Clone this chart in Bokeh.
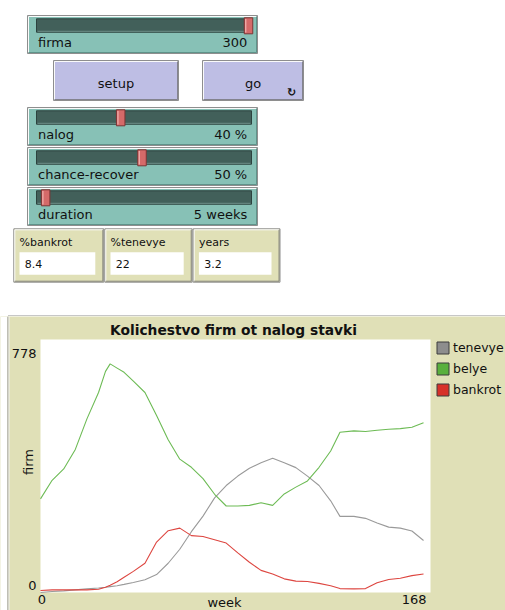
import math
from bokeh.plotting import figure
from bokeh.layouts import column
from bokeh.models import Range1d, Label, Legend, LegendItem
from bokeh.embed import file_html
from bokeh.resources import INLINE
from bokeh.core.properties import value

# ---------------- data ----------------
weeks = [0, 5, 10, 15, 20, 25, 28, 30, 33, 36, 40, 45, 50, 55, 60, 65, 70, 75, 80, 85,
         90, 95, 100, 105, 110, 115, 120, 125, 129, 135, 140, 145, 150, 155, 160, 165]
tenevye = [0, 3, 5, 8, 11, 14, 16, 18, 21, 25, 31, 39, 55, 90, 133, 187, 235, 291, 329, 358,
           382, 399, 413, 399, 384, 358, 329, 282, 234, 234, 228, 214, 201, 198, 189, 160]
belye = [288, 345, 380, 440, 534, 615, 680, 703, 690, 677, 650, 615, 544, 470, 410, 385, 350, 302, 266, 266,
         268, 276, 268, 303, 324, 343, 385, 435, 493, 497, 495, 499, 502, 504, 508, 522]
bankrot = [6, 8, 8, 8, 8, 10, 16, 22, 33, 47, 65, 90, 155, 190, 198, 175, 172, 162, 152, 122,
           93, 68, 57, 42, 35, 34, 28, 21, 12, 11, 12, 30, 40, 44, 52, 57]

series_names = ["tenevye", "belye", "bankrot"]
series_values = [tenevye, belye, bankrot]

x_min, x_max = 0, 168
y_min, y_max = 0, 778
plot_title = "Kolichestvo firm ot nalog stavki"
x_label = "week"
y_label = "firm"

slider_names = ["firma", "nalog", "chance-recover", "duration"]
slider_values = [300, 40, 50, 5]
slider_units = ["", " %", " %", " weeks"]
slider_mins = [10, 0, 0, 1]
slider_maxs = [300, 100, 100, 85]

button_names = ["setup", "go"]

monitor_names = ["%bankrot", "%tenevye", "years"]
monitor_values = ["8.4", "22", "3.2"]

# ---------------- styles / geometry (page pixels) ----------------
FONT_NAME = "DejaVu Sans"
FONT = value(FONT_NAME)
TXT = "#111111"
BEIGE = "#E0E0B7"
TEAL = "#87C1B6"
LAVENDER = "#BEBEE4"
series_colors = ["#8D8D8D", "#59B03C", "#D73229"]
line_colors = ["#9A9A9A", "#6DBB55", "#DD4640"]

W, H = 505, 610
UI_BOT = 316

SL_L, SL_R = 27, 257
SL_TOPS = [15, 107, 147, 187]
SL_H = 38
TR_L, TR_R = 36, 251
KNOB_C0, KNOB_SPAN, KNOB_W = 35, 213, 8.5

BTN_BOXES = [(53, 178), (202, 303)]
BTN_T, BTN_B = 60, 100

MON_BOXES = [(13.3, 103.3), (104.3, 191.7), (192.7, 279.5)]
MON_T, MON_B = 228.3, 281.7

# plot area (white) in page pixels
PA_L, PA_R, PA_T, PA_B = 40, 430, 339, 592
WIDGET_L = 7.5


def bevel(fig, l, r, t, b, fill, edge="#8E8E8E", light="#FAFAFA", dark="#6A6A6A"):
    fig.quad(left=[l], right=[r], top=[t], bottom=[b], fill_color=fill,
             line_color=edge, line_width=1)
    fig.segment(x0=[l + 1, l + 1], y0=[t + 1, t + 1], x1=[r - 1, l + 1], y1=[t + 1, b - 1],
                line_color=light, line_width=1)
    fig.segment(x0=[l + 1, r - 1], y0=[b - 1, t + 1], x1=[r - 1, r - 1], y1=[b - 1, b - 1],
                line_color=dark, line_width=1, line_alpha=0.7)


# ---------------- interface (top) ----------------
ui = figure(width=W, height=UI_BOT,
            x_range=Range1d(0, W), y_range=Range1d(UI_BOT, 0),
            x_axis_location=None, y_axis_location=None, toolbar_location=None,
            output_backend="svg", min_border=0, title=None,
            outline_line_color=None, background_fill_color="white", border_fill_color="white")
ui.grid.grid_line_color = None

for i, name in enumerate(slider_names):
    t = SL_TOPS[i]
    b = t + SL_H
    bevel(ui, SL_L, SL_R, t, b, TEAL, dark="#4E7F77")
    ui.quad(left=[TR_L], right=[TR_R], top=[t + 3.3], bottom=[t + 16.7],
            fill_color="#42605A", line_color="#2C423E")
    ui.segment(x0=[TR_L + 1], y0=[t + 15.8], x1=[TR_R - 1], y1=[t + 15.8],
               line_color="#6E8F89", line_width=1)
    frac = (slider_values[i] - slider_mins[i]) / (slider_maxs[i] - slider_mins[i])
    kc = KNOB_C0 + frac * KNOB_SPAN
    ui.quad(left=[kc - KNOB_W / 2], right=[kc + KNOB_W / 2], top=[t + 2.3], bottom=[t + 18.3],
            fill_color="#D56A69", line_color="#7E3434")
    ui.segment(x0=[kc - KNOB_W / 2 + 1.5], y0=[t + 3.5], x1=[kc - KNOB_W / 2 + 1.5], y1=[t + 17],
               line_color="#F2B3B1", line_width=1.2)
    ui.text(x=[SL_L + 10.5], y=[t + 26.8], text=[name], text_font=FONT, text_font_size="13px",
            text_align="left", text_baseline="middle", text_color=TXT)
    ui.text(x=[SL_R - 10.3], y=[t + 26.8], text=[f"{slider_values[i]}{slider_units[i]}"],
            text_font=FONT, text_font_size="13px", text_align="right", text_baseline="middle",
            text_color=TXT)

for i, name in enumerate(button_names):
    l, r = BTN_BOXES[i]
    bevel(ui, l, r, BTN_T, BTN_B, LAVENDER)
    ui.text(x=[(l + r) / 2], y=[83], text=[name], text_font=FONT, text_font_size="13px",
            text_align="center", text_baseline="middle", text_color=TXT)
    if name == "go":
        ui.text(x=[r - 12], y=[92], text=["\u21bb"], text_font=FONT, text_font_size="11px",
                text_font_style="bold", text_align="center", text_baseline="middle",
                text_color=TXT)

for i, name in enumerate(monitor_names):
    l, r = MON_BOXES[i]
    bevel(ui, l, r, MON_T, MON_B, BEIGE)
    ui.text(x=[l + 5.7], y=[241.7], text=[name], text_font=FONT, text_font_size="11px",
            text_align="left", text_baseline="middle", text_color=TXT)
    ui.quad(left=[l + 5.7], right=[r - 8.5], top=[251.7], bottom=[274.3],
            fill_color="white", line_color=None)
    ui.text(x=[l + 11], y=[263.2], text=[monitor_values[i]], text_font=FONT,
            text_font_size="11px", text_align="left", text_baseline="middle",
            text_color=TXT)

# top border of the plot widget
ui.segment(x0=[WIDGET_L], y0=[315.5], x1=[W], y1=[315.5], line_color="#8E8E8E", line_width=1)
ui.segment(x0=[WIDGET_L + 1], y0=[UI_BOT], x1=[W], y1=[UI_BOT], line_color="#F4F4F4", line_width=1)

# ---------------- chart ----------------
# The frame covers the whole plot widget; data limits map onto the white plot area.
kx = (PA_R - PA_L) / (x_max - x_min)      # px per week
ky = (PA_B - PA_T) / (y_max - y_min)      # px per firm
xr = Range1d(x_min - PA_L / kx, x_max + (W - PA_R) / kx)
yr = Range1d(y_min - (H - PA_B) / ky, y_max + (PA_T - UI_BOT) / ky)

def dx(px):
    return x_min + (px - PA_L) / kx

p = figure(width=W, height=H - UI_BOT, x_range=xr, y_range=yr,
           x_axis_location=None, y_axis_location=None, toolbar_location=None,
           output_backend="svg", title=None, min_border=0,
           background_fill_color=BEIGE, border_fill_color=BEIGE, outline_line_color=None)
p.grid.grid_line_color = None

# page margin strip and widget border on the left
p.quad(left=[xr.start], right=[dx(WIDGET_L - 0.5)], bottom=[yr.start], top=[yr.end],
       fill_color="white", line_color=None)
p.segment(x0=[dx(WIDGET_L)], y0=[yr.start], x1=[dx(WIDGET_L)], y1=[yr.end],
          line_color="#8E8E8E", line_width=1)
p.segment(x0=[dx(WIDGET_L + 1)], y0=[yr.start], x1=[dx(WIDGET_L + 1)], y1=[yr.end],
          line_color="#F4F4F4", line_width=1)

# white plotting area
p.quad(left=[x_min], right=[x_max], bottom=[y_min], top=[y_max],
       fill_color="white", line_color=None)

for name, vals, col in zip(series_names, series_values, line_colors):
    p.line(weeks, vals, line_color=col, line_width=1.1)

# legend swatches: renderers that draw nothing in the plot (NaN), only in the legend
nan = float("nan")
items = []
for name, col in zip(series_names, series_colors):
    r = p.quad(left=[nan], right=[nan], top=[nan], bottom=[nan],
               fill_color=col, line_color="#3C3C3C")
    items.append(LegendItem(label=name, renderers=[r]))

legend = Legend(items=items, location=(435, H - 397), orientation="vertical",
                glyph_width=15, glyph_height=15, label_height=15, spacing=6,
                padding=0, margin=0, label_standoff=3, border_line_color=None,
                background_fill_alpha=0, label_text_font=FONT_NAME, label_text_font_size="12.5px",
                label_text_color=TXT, label_text_baseline="middle")
p.add_layout(legend)

def lab(**kw):
    base = dict(text_font=FONT_NAME, text_font_size="13px", text_color=TXT)
    base.update(kw)
    p.add_layout(Label(**base))

lab(x=(x_min + x_max) / 2, y=y_max, text=plot_title, x_offset=-2, y_offset=10,
    text_align="center", text_baseline="middle", text_font_style="bold",
    text_font_size="13.8px")
lab(x=x_min, y=y_max, text=str(y_max), x_offset=-4, y_offset=-14,
    text_align="right", text_baseline="middle")
lab(x=x_min, y=y_min, text=str(y_min), x_offset=-4, y_offset=7,
    text_align="right", text_baseline="middle")
lab(x=x_min, y=(y_min + y_max) / 2, text=y_label, x_offset=-12, y_offset=4,
    angle=math.pi / 2, text_align="center", text_baseline="middle")
lab(x=x_min, y=y_min, text=str(x_min), x_offset=1.5, y_offset=-2,
    text_align="center", text_baseline="top")
lab(x=(x_min + x_max) / 2, y=y_min, text=x_label, x_offset=-11, y_offset=-2,
    text_align="center", text_baseline="top")
lab(x=x_max, y=y_min, text=str(x_max), x_offset=-4, y_offset=-2,
    text_align="right", text_baseline="top")

layout = column(ui, p)
open("out.html", "w").write(file_html(layout, INLINE))
